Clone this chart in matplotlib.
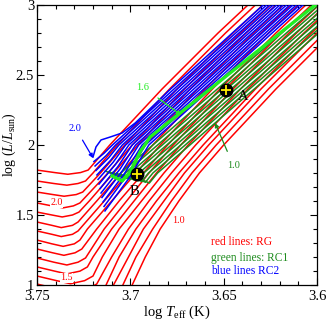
import matplotlib
matplotlib.use("Agg")
import matplotlib.pyplot as plt
from matplotlib.ticker import MultipleLocator, FixedLocator

plt.rcParams['font.family'] = ['Liberation Serif', 'DejaVu Serif']
plt.rcParams['mathtext.fontset'] = 'custom'
plt.rcParams['mathtext.rm'] = 'Liberation Serif'
plt.rcParams['mathtext.it'] = 'Liberation Serif:italic'

N = None
# ---------------- RG tracks (red) ----------------
rg_logL_grid = [1.0, 1.2, 1.4, 1.6, 1.8, 2.0, 2.2, 2.4, 2.6, 2.8, 3.0]
rg_rgb_logT = [
    [3.699, 3.692, 3.684, 3.674, 3.663, 3.650, 3.636, 3.622, 3.607, 3.592, 3.576],
    [3.704, 3.697, 3.688, 3.678, 3.667, 3.654, 3.640, 3.626, 3.611, 3.596, 3.580],
    [3.709, 3.701, 3.693, 3.682, 3.671, 3.658, 3.644, 3.630, 3.615, 3.600, 3.584],
    [3.713, 3.706, 3.697, 3.686, 3.674, 3.661, 3.647, 3.633, 3.618, 3.603, 3.587],
    [N, 3.710, 3.701, 3.690, 3.678, 3.665, 3.651, 3.637, 3.622, 3.607, 3.591],
    [N, 3.715, 3.706, 3.694, 3.682, 3.669, 3.655, 3.641, 3.626, 3.611, 3.595],
    [N, 3.720, 3.710, 3.698, 3.686, 3.673, 3.659, 3.645, 3.630, 3.615, 3.599],
    [N, N, 3.714, 3.702, 3.690, 3.677, 3.663, 3.649, 3.634, 3.619, 3.603],
    [N, N, 3.718, 3.706, 3.693, 3.680, 3.666, 3.652, 3.637, 3.622, 3.606],
    [N, N, 3.723, 3.710, 3.697, 3.684, 3.670, 3.656, 3.641, 3.626, 3.610],
    [N, N, N, 3.714, 3.701, 3.688, 3.674, 3.660, 3.645, 3.630, 3.614],
    [N, N, N, 3.718, 3.705, 3.692, 3.678, 3.664, 3.649, 3.634, 3.618],
    [N, N, N, 3.722, 3.709, 3.696, 3.682, 3.668, 3.653, 3.638, 3.622],
    [N, N, N, N, 3.712, 3.699, 3.685, 3.671, 3.656, 3.641, 3.625],
    [N, N, N, N, 3.716, 3.703, 3.689, 3.675, 3.660, 3.645, 3.629],
    [N, N, N, N, 3.720, 3.707, 3.693, 3.679, 3.664, 3.649, 3.633],
    [N, N, N, N, N, 3.711, 3.697, 3.683, 3.668, 3.653, 3.637],
]
rg_sub_logT = [
    [], [], [], [],
    [3.750, 3.739, 3.731, 3.723, 3.718],
    [3.750, 3.7395, 3.732, 3.7245, 3.720],
    [3.750, 3.7405, 3.734, 3.727, 3.723],
    [3.750, 3.741, 3.734, 3.728, 3.724],
    [3.750, 3.7416, 3.7356, 3.7296, 3.726],
    [3.750, 3.742, 3.736, 3.730, 3.727],
    [3.750, 3.742, 3.737, 3.731, 3.728],
    [3.750, 3.742, 3.737, 3.731, 3.728],
    [3.750, 3.742, 3.7365, 3.731, 3.7275],
    [3.750, 3.742, 3.736, 3.7305, 3.727],
    [3.750, 3.7415, 3.7355, 3.729, 3.7255],
    [3.750, 3.741, 3.734, 3.728, 3.724],
    [3.750, 3.7405, 3.7335, 3.7267, 3.7226],
]
rg_sub_logL = [
    [], [], [], [],
    [1.007, 0.971, 0.947, 0.971, 1.007],
    [1.064, 1.031, 1.009, 1.031, 1.064],
    [1.129, 1.099, 1.079, 1.099, 1.129],
    [1.193, 1.163, 1.143, 1.163, 1.193],
    [1.257, 1.230, 1.212, 1.230, 1.257],
    [1.321, 1.294, 1.276, 1.294, 1.321],
    [1.386, 1.362, 1.346, 1.362, 1.386],
    [1.450, 1.426, 1.410, 1.426, 1.450],
    [1.521, 1.500, 1.486, 1.500, 1.521],
    [1.586, 1.565, 1.551, 1.565, 1.586],
    [1.664, 1.646, 1.634, 1.646, 1.664],
    [1.743, 1.725, 1.713, 1.725, 1.743],
    [1.821, 1.803, 1.791, 1.803, 1.821],
]

# ---------------- RC1 tracks (dark green) ----------------
rc1_logL_grid = [1.8, 2.0, 2.2, 2.4, 2.6, 2.8, 3.0]
rc1_start_logT = [
    [3.6973, 3.6898], [3.6994, 3.6919], [3.7014, 3.6938], [3.7034, 3.6959],
    [3.7054, 3.6979], [3.7074, 3.6999], [3.7094, 3.7019], [3.7114, 3.7039],
    [3.7134, 3.7059],
]
rc1_start_logL = [
    [1.7714, 1.7286], [1.7768, 1.7339], [1.7821, 1.7393], [1.7875, 1.7446],
    [1.7928, 1.7500], [1.7982, 1.7554], [1.8036, 1.7607], [1.8089, 1.7661],
    [1.8143, 1.7714],
]
rc1_agb_logT = [
    [3.6854, 3.6681, 3.6509, 3.6336, 3.6163, 3.5991, 3.5818],
    [3.6879, 3.6706, 3.6534, 3.6361, 3.6188, 3.6016, 3.5843],
    [3.6903, 3.6730, 3.6558, 3.6385, 3.6212, 3.6040, 3.5867],
    [3.6928, 3.6755, 3.6583, 3.6410, 3.6237, 3.6065, 3.5892],
    [3.6953, 3.6780, 3.6608, 3.6435, 3.6262, 3.6090, 3.5917],
    [3.6978, 3.6805, 3.6633, 3.6460, 3.6287, 3.6115, 3.5942],
    [3.7002, 3.6829, 3.6657, 3.6484, 3.6311, 3.6139, 3.5966],
    [3.7027, 3.6854, 3.6682, 3.6509, 3.6336, 3.6164, 3.5991],
    [3.7052, 3.6879, 3.6707, 3.6534, 3.6361, 3.6189, 3.6016],
]
lime_logT = [3.7098, 3.7044, 3.7001, 3.6948, 3.6894, 3.6412, 3.6010, 3.5980]
lime_logL = [1.7786, 1.7429, 1.8071, 1.9500, 2.0571, 2.5714, 3.0000, 3.0360]

# ---------------- RC2 tracks (blue) ----------------
rc2_logT = [
    [3.7200, 3.7184, 3.7157, 3.7108, 3.7044, 3.6974, 3.6784, 3.6288],
    [3.7195, 3.7141, 3.7096, 3.6766, 3.6270],
    [3.7189, 3.7129, 3.7079, 3.6749, 3.6253],
    [3.7184, 3.7116, 3.7061, 3.6731, 3.6235],
    [3.7179, 3.7104, 3.7043, 3.6713, 3.6217],
    [3.7173, 3.7092, 3.7025, 3.6695, 3.6199],
    [3.7168, 3.7080, 3.7008, 3.6678, 3.6182],
    [3.7162, 3.7067, 3.6990, 3.6660, 3.6164],
    [3.7157, 3.7055, 3.6972, 3.6642, 3.6146],
    [3.7152, 3.7044, 3.6955, 3.6625, 3.6129],
    [3.7146, 3.7031, 3.6937, 3.6607, 3.6111],
    [3.7141, 3.7019, 3.6919, 3.6589, 3.6093],
    [3.7136, 3.7006, 3.6901, 3.6571, 3.6075],
]
rc2_logL = [
    [1.914, 1.986, 2.036, 2.057, 2.086, 2.157, 2.4, 3.0],
    [1.882, 1.941, 2.0, 2.4, 3.0],
    [1.850, 1.925, 2.0, 2.4, 3.0],
    [1.818, 1.909, 2.0, 2.4, 3.0],
    [1.786, 1.893, 2.0, 2.4, 3.0],
    [1.754, 1.877, 2.0, 2.4, 3.0],
    [1.721, 1.861, 2.0, 2.4, 3.0],
    [1.689, 1.845, 2.0, 2.4, 3.0],
    [1.657, 1.829, 2.0, 2.4, 3.0],
    [1.625, 1.813, 2.0, 2.4, 3.0],
    [1.593, 1.797, 2.0, 2.4, 3.0],
    [1.561, 1.781, 2.0, 2.4, 3.0],
    [1.529, 1.765, 2.0, 2.4, 3.0],
]

star_names = ['A', 'B']
star_logT = [3.6487, 3.6964]
star_logL = [2.393, 1.790]

x_ticks = [3.75, 3.70, 3.65, 3.60]
x_tick_labels = ['3.75', '3.7', '3.65', '3.6']
y_ticks = [1.0, 1.5, 2.0, 2.5, 3.0]
y_tick_labels = ['1', '1.5', '2', '2.5', '3']

# ---------------- figure ----------------
fig = plt.figure(figsize=(3.27, 3.20), dpi=100)
ax = fig.add_axes([37/327, 35/320, 280/327, 280/320])

RED = '#ff0000'
DGREEN = '#1e8c1e'
LIME = '#22ee22'
BLUE = '#0000ff'

for k in range(len(rg_rgb_logT)):
    T = list(rg_sub_logT[k])
    L = list(rg_sub_logL[k])
    L0 = L[-1] if L else -1
    for lg, t in zip(rg_logL_grid, rg_rgb_logT[k]):
        if t is not None and lg > L0 + 0.03:
            T.append(t)
            L.append(lg)
    ax.plot(T, L, color=RED, lw=1.1, zorder=2, solid_capstyle='round')

for g in range(len(rc1_agb_logT)):
    T = rc1_start_logT[g] + rc1_agb_logT[g]
    L = rc1_start_logL[g] + rc1_logL_grid
    ax.plot(T, L, color=DGREEN, lw=1.1, zorder=3)

for b in range(len(rc2_logT)):
    ax.plot(rc2_logT[b], rc2_logL[b], color=BLUE, lw=1.1, zorder=4)

ax.plot(lime_logT, lime_logL, color=LIME, lw=2.4, zorder=5)

ax.plot(star_logT, star_logL, 'o', ms=9, mfc='black', mec='black', zorder=7)
ax.plot(star_logT, star_logL, '+', ms=7, mew=1.3, color='#ffee00', zorder=8)
ax.text(3.6396, 2.343, star_names[0], fontsize=10.5, ha='center', va='center', zorder=9)
ax.text(3.6980, 1.671, star_names[1], fontsize=10.5, ha='center', va='center', zorder=9)

ax.text(3.7393, 1.586, '2.0', color=RED, fontsize=7.2, ha='center', va='center', zorder=6,
        bbox=dict(fc='white', ec='none', pad=0.2))
ax.text(3.7344, 1.050, '1.5', color=RED, fontsize=7.2, ha='center', va='center', zorder=6,
        bbox=dict(fc='white', ec='none', pad=0.2))
ax.text(3.6744, 1.464, '1.0', color=RED, fontsize=7.2, ha='center', va='center', zorder=6)

ax.annotate('2.0', xy=(3.7200, 1.907), xytext=(3.7294, 2.121), color=BLUE, fontsize=7.5,
            ha='center', va='center', zorder=9,
            arrowprops=dict(arrowstyle='-|>', color=BLUE, lw=0.9, mutation_scale=6,
                            shrinkA=4, shrinkB=0))
ax.annotate('1.6', xy=(3.6728, 2.214), xytext=(3.6932, 2.414), color=LIME, fontsize=7.5,
            ha='center', va='center', zorder=9,
            arrowprops=dict(arrowstyle='-|>', color=LIME, lw=0.9, mutation_scale=6,
                            shrinkA=5, shrinkB=0))
ax.annotate('1.0', xy=(3.6546, 2.157), xytext=(3.6449, 1.857), color=DGREEN, fontsize=7.5,
            ha='center', va='center', zorder=9,
            arrowprops=dict(arrowstyle='-|>', color=DGREEN, lw=0.9, mutation_scale=6,
                            shrinkA=5, shrinkB=0))

ax.text(3.6567, 1.307, 'red lines: RG', color=RED, fontsize=8.3, ha='left', va='center')
ax.text(3.6567, 1.193, 'green lines: RC1', color=DGREEN, fontsize=8.3, ha='left', va='center')
ax.text(3.6567, 1.100, 'blue lines RC2', color=BLUE, fontsize=8.3, ha='left', va='center')

ax.set_xlim(3.75, 3.60)
ax.set_ylim(1.0, 3.0)
ax.xaxis.set_major_locator(FixedLocator(x_ticks))
ax.set_xticklabels(x_tick_labels)
ax.yaxis.set_major_locator(FixedLocator(y_ticks))
ax.set_yticklabels(y_tick_labels)
ax.xaxis.set_minor_locator(MultipleLocator(0.01))
ax.yaxis.set_minor_locator(MultipleLocator(0.1))
ax.tick_params(which='both', direction='in', top=True, right=True, width=0.8,
               labelsize=10.5, colors='black')
ax.tick_params(which='major', length=5)
ax.tick_params(which='minor', length=2.8)
ax.tick_params(axis='x', pad=3.8)
ax.tick_params(axis='y', pad=2)
for s in ax.spines.values():
    s.set_linewidth(0.9)

ax.set_xlabel(r'log $T_{\rm eff}$ (K)', fontsize=10.5, labelpad=0)
ax.set_ylabel(r'log ($L/L_{\rm sun}$)', fontsize=10)
ax.yaxis.set_label_coords(-0.068, 0.5)

fig.savefig('out.png', dpi=100)
